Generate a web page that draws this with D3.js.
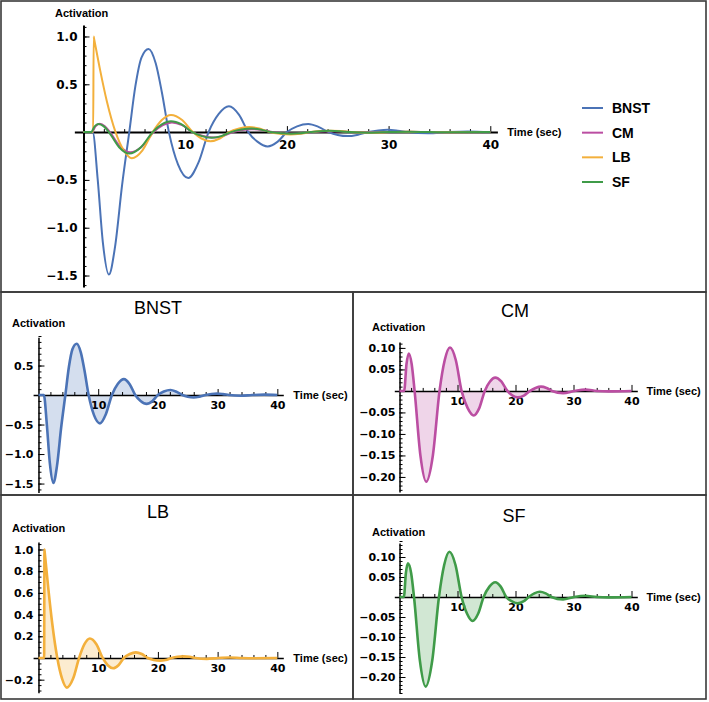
<!DOCTYPE html>
<html>
<head>
<meta charset="utf-8">
<script src="https://cdn.jsdelivr.net/npm/d3@7"></script>
<style>
  body { margin: 0; background: #fff; }
  svg { display: block; }
  .lbl { font-family: "Liberation Sans", Arial, sans-serif; font-weight: bold; font-size: 11px; }
  .ttl { font-family: "Liberation Sans", Arial, sans-serif; font-size: 18px; }
  .leg { font-family: "Liberation Sans", Arial, sans-serif; font-weight: bold; font-size: 14px; }
</style>
</head>
<body>
<script>
// values (time in sec, activation)
const names = ["BNST", "CM", "LB", "SF"];
const colors = ["#4b73b6", "#bb4ea2", "#f3b03c", "#3f9b48"];

const bnstTime = [0, 0.9, 1.4, 1.9, 2.5, 3.1, 3.8, 4.5, 5.1, 5.7, 6.4, 7.1, 7.7, 8.4, 9.3, 10.3, 11.3, 12.3, 13.3, 14.3, 15.3, 16.2, 17.1, 18.1, 19.1, 20.0, 21.0, 22.1, 23.1, 24.1, 25.0, 26.0, 27.0, 28.0, 29.0, 29.9, 30.9, 31.9, 33.9, 35.8, 37.8, 40];
const bnstAct  = [0, 0, -0.5, -1.15, -1.49, -1.2, -0.55, 0, 0.48, 0.78, 0.87, 0.72, 0.42, 0, -0.34, -0.48, -0.32, 0, 0.19, 0.27, 0.18, 0, -0.1, -0.15, -0.1, 0, 0.06, 0.085, 0.055, 0, -0.03, -0.042, -0.027, 0, 0.017, 0.024, 0.015, 0, -0.013, 0, 0.007, 0];

const cmTime = [0, 0.8, 1.2, 1.6, 2.1, 2.6, 3.6, 4.6, 5.75, 6.9, 7.8, 8.7, 9.7, 10.7, 11.75, 12.8, 13.75, 14.7, 15.6, 16.5, 17.55, 18.6, 19.5, 20.4, 21.45, 22.5, 23.45, 24.4, 25.35, 26.3, 28.2, 30.2, 32.0, 34, 36, 40];
const cmAct  = [0, 0, 0.062, 0.087, 0.062, 0, -0.15, -0.211, -0.15, 0, 0.072, 0.101, 0.072, 0, -0.04, -0.057, -0.04, 0, 0.022, 0.031, 0.022, 0, -0.011, -0.015, -0.011, 0, 0.007, 0.010, 0.007, 0, -0.005, 0, 0.003, 0, -0.001, 0];

const lbTime = [0, 0.95, 1.0, 1.05, 1.65, 2.3, 3.15, 3.95, 4.75, 5.8, 6.8, 7.7, 8.6, 9.7, 10.75, 11.6, 12.5, 13.4, 14.3, 15.3, 16.3, 17.3, 18.3, 19.3, 20.35, 21.3, 22.3, 23.3, 24.3, 25.3, 26.3, 28.2, 30.1, 32, 34, 36, 40];
const lbAct  = [0, 0, 1.0, 0.972, 0.64, 0.32, 0, -0.19, -0.273, -0.19, 0, 0.127, 0.18, 0.127, 0, -0.067, -0.095, -0.067, 0, 0.037, 0.052, 0.037, 0, -0.018, -0.025, -0.018, 0, 0.011, 0.015, 0.011, 0, -0.008, 0, 0.004, 0, -0.002, 0];

const sfTime = [0, 0.75, 1.1, 1.45, 2.0, 2.5, 3.5, 4.5, 5.65, 6.8, 7.7, 8.6, 9.65, 10.7, 11.65, 12.6, 13.55, 14.5, 15.5, 16.5, 17.45, 18.4, 19.4, 20.4, 21.35, 22.3, 23.25, 24.2, 25.2, 26.2, 28.2, 30.1, 32.0, 34, 36, 40];
const sfAct  = [0, 0, 0.06, 0.084, 0.06, 0, -0.158, -0.224, -0.158, 0, 0.08, 0.113, 0.08, 0, -0.042, -0.06, -0.042, 0, 0.026, 0.037, 0.026, 0, -0.011, -0.016, -0.011, 0, 0.009, 0.013, 0.009, 0, -0.006, 0, 0.003, 0, -0.001, 0];

const xTicks = [10, 20, 30, 40];
const topYTicks = [-1.5, -1.0, -0.5, 0.5, 1.0];
const bnstYTicks = [-1.5, -1.0, -0.5, 0.5];
const cmYTicks = [-0.2, -0.15, -0.1, -0.05, 0.05, 0.1];
const lbYTicks = [-0.2, 0.2, 0.4, 0.6, 0.8, 1.0];
const sfYTicks = [-0.2, -0.15, -0.1, -0.05, 0.05, 0.1];

const series = [
  {name: names[0], color: colors[0], pts: d3.zip(bnstTime, bnstAct)},
  {name: names[1], color: colors[1], pts: d3.zip(cmTime, cmAct)},
  {name: names[2], color: colors[2], pts: d3.zip(lbTime, lbAct)},
  {name: names[3], color: colors[3], pts: d3.zip(sfTime, sfAct)}
];

const svg = d3.select("body").append("svg").attr("width", 709).attr("height", 702);

// panel frames
const boxes = [[1, 1, 705, 291], [1, 292, 352, 203], [353, 292, 353, 203], [1, 495, 352, 204], [353, 495, 353, 204]];
svg.selectAll("rect.frame").data(boxes).join("rect")
  .attr("class", "frame")
  .attr("x", d => d[0]).attr("y", d => d[1])
  .attr("width", d => d[2]).attr("height", d => d[3])
  .attr("fill", "none").attr("stroke", "#3a3a3a").attr("stroke-width", 1.6);

const minorRange = (a, b, s) => d3.range(Math.round(a / s), Math.round(b / s) + 1).map(i => +(i * s).toFixed(4));

function chart(c, list) {
  const x = d3.scaleLinear().domain(c.xDom).range(c.xRange);
  const y = d3.scaleLinear().domain(c.yDom).range(c.yRange);
  const g = svg.append("g");
  const x0 = x(0), y0 = y(0);

  const area = d3.area().x(d => x(d[0])).y0(y0).y1(d => y(d[1])).curve(d3.curveMonotoneX);
  const line = d3.line().x(d => x(d[0])).y(d => y(d[1])).curve(d3.curveMonotoneX);

  if (c.fill) {
    g.selectAll("path.area").data(list).join("path")
      .attr("class", "area")
      .attr("fill", d => d.color).attr("fill-opacity", 0.24)
      .attr("d", d => area(d.pts));
  }

  const style = sel => {
    sel.attr("font-family", "'DejaVu Sans', Verdana, sans-serif")
      .attr("font-size", c.fs).attr("font-weight", "bold");
    sel.selectAll(".tick line").attr("stroke", "#000").attr("stroke-width", 1);
    sel.select(".domain").attr("stroke", "#000").attr("stroke-width", c.aw);
  };

  // y axis, ticks pointing right
  const yMin = minorRange(c.yDom[0], c.yDom[1], c.yStep).filter(v => v !== 0);
  g.append("g").attr("transform", `translate(${x0},0)`)
    .call(d3.axisLeft(y).tickValues(yMin).tickSize(-3).tickSizeOuter(0).tickFormat(""))
    .call(s => s.select(".domain").remove())
    .call(style);
  g.append("g").attr("transform", `translate(${x0},0)`)
    .call(d3.axisLeft(y).tickValues(c.yTicks).tickSize(-6).tickSizeOuter(0)
      .tickPadding(c.yPad).tickFormat(d3.format(c.yFmt)))
    .call(style);

  // x axis, ticks pointing up
  const xMin = d3.range(2, 41, 2).filter(v => v % 10 !== 0);
  g.append("g").attr("transform", `translate(0,${y0})`)
    .call(d3.axisBottom(x).tickValues(xMin).tickSize(-3).tickSizeOuter(0).tickFormat(""))
    .call(s => s.select(".domain").remove())
    .call(style);
  g.append("g").attr("transform", `translate(0,${y0})`)
    .call(d3.axisBottom(x).tickValues(xTicks).tickSize(-6).tickSizeOuter(0)
      .tickPadding(c.xPad).tickFormat(d3.format("d")))
    .call(style);

  g.selectAll("path.curve").data(list).join("path")
    .attr("class", "curve")
    .attr("fill", "none")
    .attr("stroke", d => d.color).attr("stroke-width", c.lw)
    .attr("stroke-linejoin", "round")
    .attr("d", d => line(d.pts));

  g.append("text").attr("class", "lbl").attr("x", c.actX).attr("y", c.actY).text("Activation");
  g.append("text").attr("class", "lbl").attr("x", x(40) + c.timeDx).attr("y", y0 + 4).text("Time (sec)");
  if (c.title) {
    g.append("text").attr("class", "ttl").attr("text-anchor", "middle")
      .attr("x", c.titleX).attr("y", c.titleY).text(c.title);
  }
  return {x, y, g};
}

// overview
chart({
  xDom: [-0.9, 40.7], xRange: [74.35, 497.4],
  yDom: [-1.62, 1.12], yRange: [287, 25],
  yTicks: topYTicks, yStep: 0.1, yFmt: ".1f",
  fs: 12, aw: 2, lw: 2, xPad: 8, yPad: 6,
  actX: 55, actY: 17, timeDx: 17, fill: false
}, series);

// legend
const leg = svg.append("g");
const ly = d3.scalePoint().domain(names).range([108, 182]);
leg.selectAll("line").data(series).join("line")
  .attr("x1", 582).attr("x2", 603)
  .attr("y1", d => ly(d.name)).attr("y2", d => ly(d.name))
  .attr("stroke", d => d.color).attr("stroke-width", 2);
leg.selectAll("text").data(series).join("text")
  .attr("class", "leg").attr("x", 612).attr("y", d => ly(d.name) + 5)
  .text(d => d.name);

// small panels
chart({
  xDom: [-0.9, 41], xRange: [33.1, 283.3],
  yDom: [-1.65, 0.98], yRange: [492.4, 337.2],
  yTicks: bnstYTicks, yStep: 0.1, yFmt: ".1f",
  fs: 11, aw: 1.5, lw: 2.6, xPad: 6, yPad: 5,
  actX: 12, actY: 327, timeDx: 16, fill: true,
  title: "BNST", titleX: 158, titleY: 314
}, [series[0]]);

chart({
  xDom: [-0.9, 41], xRange: [394.3, 637.3],
  yDom: [-0.235, 0.114], yRange: [492, 341.9],
  yTicks: cmYTicks, yStep: 0.01, yFmt: ".2f",
  fs: 11, aw: 1.5, lw: 2.6, xPad: 6, yPad: 4,
  actX: 372, actY: 331, timeDx: 15, fill: true,
  title: "CM", titleX: 515, titleY: 317
}, [series[1]]);

chart({
  xDom: [-0.9, 41], xRange: [33.1, 283.3],
  yDom: [-0.32, 1.07], yRange: [692.7, 541.9],
  yTicks: lbYTicks, yStep: 0.05, yFmt: ".1f",
  fs: 11, aw: 1.5, lw: 2.6, xPad: 6, yPad: 5,
  actX: 12, actY: 532, timeDx: 16, fill: true,
  title: "LB", titleX: 158, titleY: 518
}, [series[2]]);

chart({
  xDom: [-0.9, 41], xRange: [394.3, 637.3],
  yDom: [-0.24, 0.135], yRange: [693, 543],
  yTicks: sfYTicks, yStep: 0.01, yFmt: ".2f",
  fs: 11, aw: 1.5, lw: 2.6, xPad: 6, yPad: 4,
  actX: 372, actY: 536, timeDx: 15, fill: true,
  title: "SF", titleX: 514, titleY: 522
}, [series[3]]);
</script>
</body>
</html>
